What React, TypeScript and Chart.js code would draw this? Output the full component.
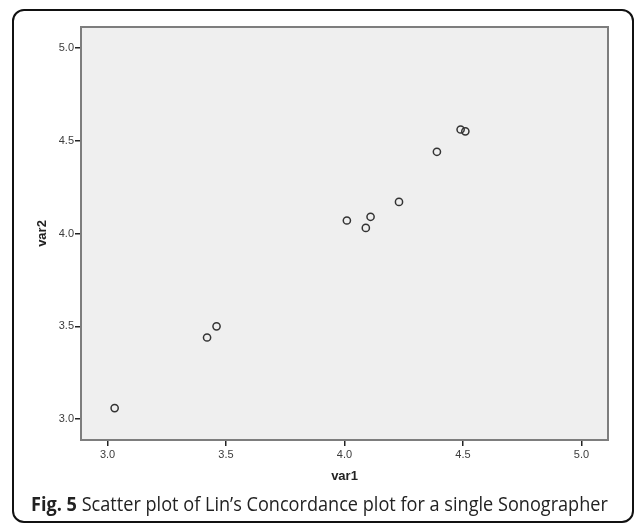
import React, { useEffect, useLayoutEffect, useRef, useState } from "react";
import { Chart, registerables } from "chart.js";

Chart.register(...registerables);

const var1: number[] = [3.03, 3.42, 3.46, 4.01, 4.09, 4.11, 4.23, 4.39, 4.49, 4.51];
const var2: number[] = [3.06, 3.44, 3.50, 4.07, 4.03, 4.09, 4.17, 4.44, 4.56, 4.55];
const xTicks: number[] = [3.0, 3.5, 4.0, 4.5, 5.0];
const yTicks: number[] = [3.0, 3.5, 4.0, 4.5, 5.0];
const axisMin = 2.888;
const axisMax = 5.112;
const xTitle = "var1";
const yTitle = "var2";
const captionBold = "Fig. 5";
const captionText = " Scatter plot of Lin\u2019s Concordance plot for a single Sonographer";

const plotFrame = {
  id: "plotFrame",
  beforeDraw(chart: any) {
    const { ctx, chartArea: a } = chart;
    ctx.save();
    ctx.fillStyle = "#efefef";
    ctx.fillRect(a.left, a.top, a.right - a.left, a.bottom - a.top);
    ctx.restore();
  },
  afterDraw(chart: any) {
    const { ctx, chartArea: a } = chart;
    ctx.save();
    ctx.strokeStyle = "#7d7d7d";
    ctx.lineWidth = 2;
    ctx.strokeRect(a.left, a.top, a.right - a.left, a.bottom - a.top);
    ctx.restore();
  },
};

export default function App() {
  const ref = useRef<HTMLCanvasElement | null>(null);
  const capRef = useRef<HTMLDivElement | null>(null);
  const [capScale, setCapScale] = useState(1);

  useLayoutEffect(() => {
    if (capRef.current) {
      const w = capRef.current.scrollWidth;
      if (w > 0) setCapScale(577 / w);
    }
  }, []);

  useEffect(() => {
    if (!ref.current) return;
    const tickFont = { family: "'Liberation Sans', Arial, sans-serif", size: 11 };
    const titleFont = { family: "'Liberation Sans', Arial, sans-serif", size: 13, weight: "bold" as const };
    const chart = new Chart(ref.current, {
      type: "scatter",
      data: {
        datasets: [
          {
            data: var1.map((x, i) => ({ x, y: var2[i] })),
            pointStyle: "circle",
            pointRadius: 3.6,
            pointBorderWidth: 1.5,
            borderColor: "#333",
            backgroundColor: "rgba(0,0,0,0)",
            pointBackgroundColor: "rgba(0,0,0,0)",
          },
        ],
      },
      options: {
        animation: false,
        responsive: false,
        layout: { padding: { top: 27, right: 27, left: 0, bottom: 0 } },
        plugins: { legend: { display: false }, tooltip: { enabled: false } },
        scales: {
          x: {
            type: "linear",
            min: axisMin,
            max: axisMax,
            afterBuildTicks: (axis: any) => {
              axis.ticks = xTicks.map((v) => ({ value: v }));
            },
            afterFit: (scale: any) => {
              scale.height = 84;
            },
            ticks: {
              font: tickFont,
              color: "#3c3c3c",
              padding: 2,
              maxRotation: 0,
              callback: (v: any) => Number(v).toFixed(1),
            },
            grid: { drawOnChartArea: false, drawTicks: true, tickLength: 6, color: "#222", lineWidth: 1.5 },
            border: { display: false },
            title: {
              display: true,
              text: xTitle,
              font: titleFont,
              color: "#222",
              padding: { top: 0, bottom: 39.5 },
            },
          },
          y: {
            type: "linear",
            min: axisMin,
            max: axisMax,
            afterBuildTicks: (axis: any) => {
              axis.ticks = yTicks.map((v) => ({ value: v }));
            },
            afterFit: (scale: any) => {
              scale.width = 81;
            },
            ticks: {
              font: tickFont,
              color: "#3c3c3c",
              padding: 1,
              callback: (v: any) => Number(v).toFixed(1),
            },
            grid: { drawOnChartArea: false, drawTicks: true, tickLength: 6, color: "#222", lineWidth: 1.5 },
            border: { display: false },
            title: {
              display: true,
              text: yTitle,
              font: titleFont,
              color: "#222",
              padding: { top: 35, bottom: 0 },
            },
          },
        },
      },
      plugins: [plotFrame],
    });
    return () => chart.destroy();
  }, []);

  return (
    <div
      style={{
        position: "fixed",
        left: 0,
        top: 0,
        width: 635,
        height: 524,
        background: "#fff",
        overflow: "hidden",
      }}
    >
      <div
        style={{
          position: "absolute",
          left: 12,
          top: 9,
          width: 622,
          height: 514,
          boxSizing: "border-box",
          border: "2px solid #111",
          borderRadius: 12,
        }}
      />
      <canvas
        ref={ref}
        width={635}
        height={524}
        style={{ position: "absolute", left: 0, top: 0, width: 635, height: 524 }}
      />
      <div
        ref={capRef}
        style={{
          position: "absolute",
          left: 31,
          top: 490,
          whiteSpace: "nowrap",
          fontFamily: "'Open Sans', 'Noto Sans', sans-serif",
          fontSize: 19.5,
          lineHeight: "27px",
          color: "#222",
          transform: `scaleX(${capScale})`,
          transformOrigin: "0 0",
        }}
      >
        <b>{captionBold}</b>
        {captionText}
      </div>
    </div>
  );
}
